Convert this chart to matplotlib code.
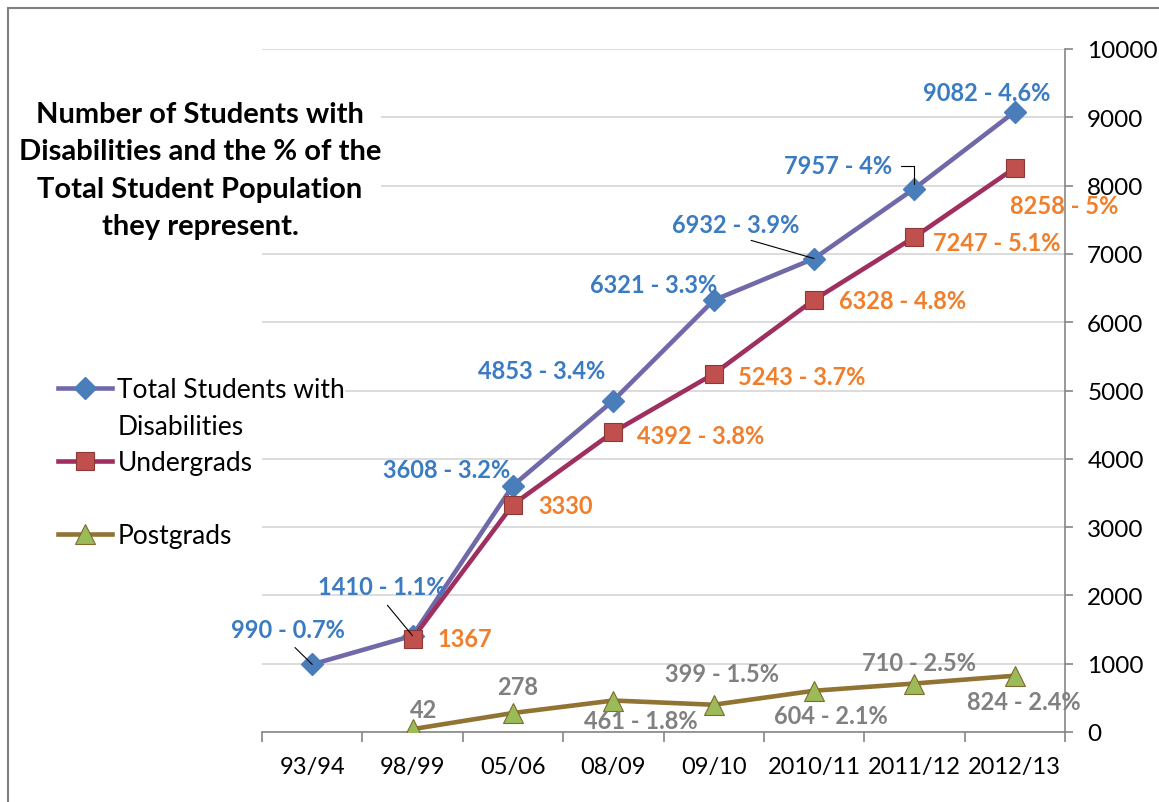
import matplotlib.pyplot as plt
from matplotlib.lines import Line2D
from matplotlib.patches import Rectangle

plt.rcParams['font.family'] = ['Lato', 'DejaVu Sans']

# data
years = ['93/94', '98/99', '05/06', '08/09', '09/10', '2010/11', '2011/12', '2012/13']
total = [990, 1410, 3608, 4853, 6321, 6932, 7957, 9082]
total_pct = ['0.7%', '1.1%', '3.2%', '3.4%', '3.3%', '3.9%', '4%', '4.6%']
under = [None, 1367, 3330, 4392, 5243, 6328, 7247, 8258]
under_pct = [None, None, None, '3.8%', '3.7%', '4.8%', '5.1%', '5%']
post = [None, 42, 278, 461, 399, 604, 710, 824]
post_pct = [None, None, None, '1.8%', '1.5%', '2.1%', '2.5%', '2.4%']

# label offsets in pixels (dx, dy with y downwards)
total_off = [(-24, -35), (-31, -49), (-66, -16), (-72, -30), (-60, -16), (-78, -34), (-76, -23), (-28, -19)]
under_off = [None, (25, 0), (25, 1), (24, 3), (24, 3), (25, 1), (19, 5), (-5, 38)]
post_off = [None, (11, -20), (5, -27), (27, 20), (8, -31), (17, 25), (5, -21), (9, 26)]


def label(v, pct):
    return f'{v} - {pct}' if pct else f'{v}'


def pts(off):
    return (off[0] * 0.72, -off[1] * 0.72)


fig = plt.figure(figsize=(11.59, 8.03), dpi=100)
ax = fig.add_axes([262 / 1159, 1 - 733 / 803, (1065 - 262) / 1159, (733 - 50) / 803])

x = list(range(len(years)))
xs_u = [i for i, v in enumerate(under) if v is not None]
xs_p = [i for i, v in enumerate(post) if v is not None]

l_total, = ax.plot(x, total, color='#7069A9', lw=3.3, marker='D', ms=11.5,
                   mfc='#4A7EBB', mec='#4A7EBB', zorder=3)
l_under, = ax.plot(xs_u, [under[i] for i in xs_u], color='#9E2F5E', lw=3.3, marker='s', ms=13,
                   mfc='#C0504D', mec='#8C3836', mew=0.8, zorder=4)
l_post, = ax.plot(xs_p, [post[i] for i in xs_p], color='#917333', lw=3.3, marker='^', ms=14,
                  mfc='#9BBB59', mec='#7F6A2F', mew=0.8, zorder=5)

lab_font = dict(fontsize=17, fontweight='bold')
leader = {0: 'line', 1: 'line', 5: 'line', 6: 'elbow'}
for i, v in enumerate(total):
    kw = {}
    if leader.get(i) == 'line':
        kw['arrowprops'] = dict(arrowstyle='-', color='black', lw=0.8, relpos=(0.5, 0),
                                shrinkA=4, shrinkB=0)
    elif leader.get(i) == 'elbow':
        kw['arrowprops'] = dict(arrowstyle='-', color='black', lw=0.8, relpos=(1, 0.5),
                                shrinkA=4, shrinkB=3,
                                connectionstyle='angle,angleA=0,angleB=90,rad=0')
    ax.annotate(label(v, total_pct[i]), (i, v), xytext=pts(total_off[i]), textcoords='offset points',
                ha='center', va='center', color='#3A7BC2', zorder=6, **lab_font, **kw)

for i in xs_u:
    ax.annotate(label(under[i], under_pct[i]), (i, under[i]), xytext=pts(under_off[i]),
                textcoords='offset points', ha='left', va='center', color='#F07E2A',
                zorder=6, **lab_font)

for i in xs_p:
    ax.annotate(label(post[i], post_pct[i]), (i, post[i]), xytext=pts(post_off[i]),
                textcoords='offset points', ha='center', va='center', color='#808080',
                zorder=6, **lab_font)

# axes styling
ax.set_xlim(-0.5, len(years) - 0.5)
ax.set_ylim(0, 10000)
ax.set_yticks(range(0, 10001, 1000))
ax.yaxis.tick_right()
ax.grid(axis='y', color='#D9D9D9', lw=1.3, zorder=0)
ax.set_axisbelow(True)
for s in ['top', 'left']:
    ax.spines[s].set_visible(False)
for s in ['right', 'bottom']:
    ax.spines[s].set_color('#868686')
    ax.spines[s].set_linewidth(1.2)
ax.set_xticks([i - 0.5 for i in range(len(years) + 1)])
ax.set_xticklabels([])
ax.set_xticks(x, minor=True)
ax.set_xticklabels(years, minor=True, fontsize=17)
ax.tick_params(axis='x', which='major', length=7, color='#868686', width=1.2)
ax.tick_params(axis='x', which='minor', length=0, pad=17)
ax.tick_params(axis='y', length=6, color='#868686', width=1.2, labelsize=17.5, pad=10)

# title block
fig.text(200 / 1159, 1 - 171 / 803,
         'Number of Students with\nDisabilities and the % of the\nTotal Student Population\nthey represent.',
         ha='center', va='center', fontsize=21, fontweight='bold', linespacing=1.55,
         bbox=dict(facecolor='white', edgecolor='none', pad=0))

# legend
blank = Line2D([], [], linestyle='none')
leg = ax.legend([l_total, blank, l_under, blank, l_post],
                ['Total Students with', 'Disabilities', 'Undergrads', '', 'Postgrads'],
                loc='upper left', bbox_to_anchor=(58 / 1159, 1 - 378 / 803),
                bbox_transform=fig.transFigure, frameon=False, fontsize=19,
                handlelength=2.05, handletextpad=0.2, labelspacing=0.44, borderpad=0,
                borderaxespad=0)
for t in leg.get_texts():
    t.set_bbox(dict(facecolor='white', edgecolor='none', pad=0))

# outer chart border
fig.patches.append(Rectangle((8 / 1159, -0.1), 1.2, 0.1 + 1 - 9 / 803, transform=fig.transFigure,
                             fill=False, edgecolor='#808080', lw=1.5))

fig.savefig('out.png', dpi=100)
